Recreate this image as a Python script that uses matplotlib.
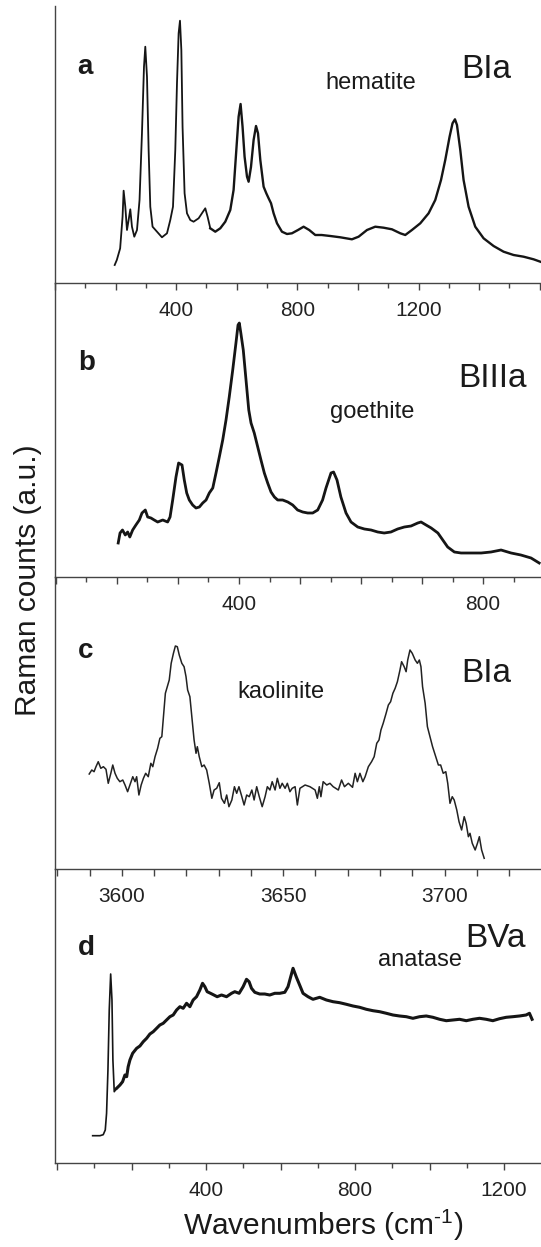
import matplotlib
matplotlib.use("Agg")
import matplotlib.pyplot as plt
from matplotlib.ticker import MultipleLocator, FuncFormatter

plt.rcParams["font.family"] = "Liberation Sans"
plt.rcParams["mathtext.fontset"] = "custom"
plt.rcParams["mathtext.rm"] = "Liberation Sans"
plt.rcParams["mathtext.it"] = "Liberation Sans:italic"

# panel a - hematite (BIa)
hem_wn = [197, 204, 215, 223, 226.5, 232, 237.6, 243, 248.5, 254, 261.7, 270.6, 279, 287,
          293.7, 298, 303.6, 309, 314.5, 322, 336.6, 353, 369.6, 380.5, 389.4, 397, 402.6,
          408, 412.5, 417, 421, 427.7, 435.6, 446.5, 457.4, 474, 488.4, 496, 503.6, 512.5,
          529, 545.5, 562, 578.5, 589.4, 600.7, 606, 612.5, 619, 625.7, 633.7, 639, 646.8,
          655.5, 663.4, 670, 677.6, 688.5, 697.4, 705, 713, 721.5, 732.7, 749, 765.7, 782,
          802, 820.5, 839, 859, 880, 908.6, 941.6, 980, 1002, 1029.7, 1057, 1084.5, 1112,
          1139.6, 1156, 1178, 1205.6, 1233, 1255, 1274, 1288, 1302.3, 1312, 1320, 1326.7,
          1337.6, 1348.5, 1365, 1387, 1414.5, 1447.5, 1480.5, 1513.5, 1546.5, 1579.5, 1601.7]
hem_int = [17.7, 22.7, 34.3, 66, 92, 76, 52.7, 62.7, 73.4, 56, 46, 52.7, 82.7, 149.4,
           216, 236, 206, 132.7, 76, 56, 51, 45.4, 49.4, 62.7, 76, 132.7, 199.4,
           249.4, 262, 232.7, 156, 89.4, 69.4, 62.7, 61, 64.4, 71, 74.4, 66, 54.4,
           51, 54.4, 61, 72.7, 92.7, 142.7, 166, 178.7, 156, 126, 106, 101, 115.7,
           142.7, 156.7, 149.4, 122.7, 96, 89.4, 84.4, 79.4, 69.4, 59.4, 51, 48.7, 49.4,
           52.7, 56, 52.7, 47.7, 47.7, 46.7, 45.4, 43.4, 46, 52.7, 56, 55, 53.4,
           49.4, 47.7, 52.7, 59.4, 69.4, 82.7, 102.7, 122.7, 146, 159.4, 163.4, 157.7,
           132.7, 102.7, 76, 56, 44.4, 36.7, 31, 27.7, 26, 23.4, 21]

# panel b - goethite (BIIIa)
goe_wn = [202, 205, 209, 213.6, 217.5, 221, 225.7, 231, 236.6, 241, 246.4, 250.3, 255.7,
          261, 266.7, 275, 283, 287, 291.3, 296.7, 301, 306.6, 310.3, 314.3, 318.5, 324,
          329.5, 335, 340.5, 346, 351.3, 357, 362.3, 367.7, 373.3, 378.7, 384, 389.7, 395,
          398.4, 400.5, 403, 407, 411.5, 416, 419.7, 425, 430.7, 436, 441.5, 447, 452.5,
          458, 463.4, 471.6, 480, 488, 496, 504.4, 512.6, 520.8, 529, 537, 542.6, 550.8,
          555, 560.6, 567, 575.4, 583.6, 594.6, 605.5, 616.4, 627.4, 638, 649, 660, 671,
          682, 693, 698.4, 706.6, 715, 726, 734, 742, 753, 764, 780, 797, 813, 829.5, 846,
          862, 878.7, 892]
goe_int = [34, 44, 47, 42, 45, 40, 47, 52, 57, 64, 67, 60, 59,
           57, 55, 57, 55, 60, 77, 100, 114, 112, 97, 84, 77, 72,
           69, 70, 74, 77, 84, 89, 104, 120, 137, 157, 180, 207, 234,
           252, 254, 244, 227, 197, 167, 154, 144, 130, 117, 104, 94, 85,
           80, 77, 77, 75, 72, 67, 65, 64, 64, 67, 77, 89, 104,
           105, 97, 80, 64, 55, 50, 48, 47, 45, 44, 45, 48, 50,
           51, 54, 55, 52, 49, 44, 37, 30, 25, 24, 24, 24, 25, 27, 24,
           22, 19, 14]

# panel c - kaolinite (BIa)
kao_wn = [3589.9, 3590.7, 3591.4, 3592.0, 3592.7, 3593.5, 3594.3, 3595.1, 3595.8, 3596.6,
          3597.2, 3597.9, 3598.6, 3599.4, 3600.3, 3601.0, 3601.8, 3602.5, 3603.4, 3604.1,
          3604.6, 3605.3, 3606.0, 3606.7, 3607.4, 3608.2, 3609.0, 3609.6, 3610.3, 3611.1,
          3611.8, 3612.4, 3612.9, 3613.5, 3614.1, 3614.7, 3615.3, 3616.0, 3616.6, 3617.2,
          3617.8, 3618.6, 3619.3, 3619.9, 3620.4, 3621.1, 3621.7, 3622.4, 3623.0, 3623.4,
          3624.0, 3624.8, 3625.5, 3626.3, 3627.1, 3627.9, 3628.6, 3629.4, 3630.2, 3630.9,
          3631.8, 3632.5, 3633.2, 3634.1, 3634.9, 3635.6, 3636.3, 3637.2, 3637.9, 3638.7,
          3639.5, 3640.3, 3641.0, 3641.8, 3642.6, 3643.5, 3644.4, 3645.1, 3645.9, 3646.6,
          3647.5, 3648.2, 3649.0, 3649.7, 3650.6, 3651.3, 3652.1, 3652.8, 3653.7, 3654.4,
          3655.2, 3656.8, 3658.3, 3659.9, 3660.6, 3661.2, 3661.7, 3662.4, 3663.5, 3664.5,
          3665.5, 3667.1, 3668.1, 3669.0, 3670.2, 3671.5, 3672.3, 3673.0, 3673.8, 3674.7,
          3675.4, 3676.4, 3677.4, 3678.2, 3679.0, 3679.7, 3680.3, 3681.0, 3681.9, 3682.6,
          3683.3, 3684.0, 3684.7, 3685.4, 3686.2, 3686.7, 3687.5, 3688.1, 3688.6, 3689.3,
          3690.0, 3690.9, 3691.6, 3692.2, 3692.7, 3693.2, 3694.0, 3694.7, 3695.5, 3696.3,
          3697.3, 3698.1, 3698.8, 3699.6, 3700.4, 3701.0, 3701.7, 3702.4, 3703.0, 3703.8,
          3704.5, 3705.3, 3706.1, 3706.7, 3707.4, 3707.9, 3708.6, 3709.5, 3710.2, 3710.8,
          3711.5, 3712.3]
kao_int = [95.3, 99.3, 97.6, 102.6, 107.6, 101, 102.6, 100, 86, 96,
           104.3, 96, 91, 87.6, 89.3, 84.3, 77.6, 84.3, 92.6, 87.6,
           92.6, 74.3, 84.3, 91, 96, 92.6, 106, 102.6, 112.6, 121,
           131, 132.6, 152.6, 176, 182.6, 189.3, 206, 216, 223.3, 222.6,
           214.3, 206, 202.6, 192.6, 179.3, 172.6, 152.6, 129.3, 116, 122.6,
           112.6, 102.6, 104.3, 99.3, 86, 71, 79.3, 81, 86.6, 71,
           66, 74.3, 62.6, 69.3, 82.6, 76, 82.6, 72.6, 64.3, 74.3,
           72.6, 79.3, 69.3, 82.6, 72.6, 62.6, 72.6, 82.6, 79.3, 87.6,
           79.3, 91, 81, 86, 81, 86, 77.6, 81, 82.6, 64.3,
           81, 84.3, 82.6, 79.3, 71, 82.6, 72.6, 87.6, 84.3, 86,
           82.6, 79.3, 89.3, 82.6, 86, 82, 96, 87.6, 96, 87.6,
           92.6, 102.6, 107.6, 112.6, 126, 129.3, 139.3, 146, 156, 164.3,
           167.6, 176, 181, 187.6, 199.3, 207.6, 202.6, 197.6, 209.3, 219.3,
           216, 209.3, 206, 209.3, 202.6, 182.6, 166, 142.6, 132.6, 122.6,
           112.6, 104.3, 104.3, 96, 97.6, 86, 66, 72.6, 69.3, 59.3,
           47.6, 39.3, 52.6, 46, 32.6, 36, 26, 19.3, 26, 32.6,
           19.3, 11]

# panel d - anatase (BVa)
ana_wn = [95.7, 115.3, 124, 129.5, 133, 136.7, 140.2, 144, 147.5, 150, 153.6, 160, 169, 176,
          182.3, 187, 191, 195.7, 203, 213.7, 222.5, 231.4, 240.5, 249.3, 258.2, 267.3, 276,
          285, 294, 303, 311.8, 320.9, 329.8, 338.6, 347.7, 356.6, 365.4, 374.5, 383.4,
          390.6, 396.8, 403, 412, 421, 429.8, 441.5, 455, 468.4, 477.2, 488.8, 499.5, 508.6,
          515.5, 522, 530.8, 544, 557.6, 571, 584.5, 597.9, 611.3, 620, 627.3, 633.5, 642.6,
          651.5, 660.3, 673.7, 687, 705, 723, 740.8, 758.7, 776.7, 794.4, 812.3, 830.3, 848,
          866, 884, 901.6, 919.6, 937.5, 955.2, 973.2, 991, 1009, 1027, 1044.8, 1062.5,
          1080.4, 1098.4, 1116.1, 1134, 1152, 1169.7, 1187.7, 1205.6, 1223.3, 1241, 1259,
          1268, 1275]
ana_int = [27.6, 27.6, 28.6, 33.3, 50, 93.3, 153.3, 189.3, 163.3, 103.3, 71.6, 75, 78.3, 81.6,
           88.3, 86.6, 96.6, 103.3, 110, 115, 117.3, 121.6, 125, 129.3, 131.6, 135, 138.3,
           140, 143.3, 146.6, 148.3, 153.3, 156.6, 155, 160, 156.6, 163.3, 166.6, 173.3,
           180, 176.6, 171.6, 170, 168.3, 166.6, 168.3, 166.6, 170, 171.6, 170, 176.6, 184,
           181.6, 175, 171, 169.3, 169.3, 168.3, 170, 170, 171, 176.6, 186.6, 195, 186,
           178, 170, 166.6, 164, 166, 163.3, 161.6, 160.6, 159, 157.3, 156, 154, 152.6,
           151.6, 150, 148.3, 147.3, 146.6, 145, 146.6, 147.3, 146, 144, 142.6, 143.3,
           144, 142.6, 144, 145, 144, 142.6, 144.6, 146, 146.6, 147.3, 148.3,
           150, 144]

W, H = 541, 1247
LEFT = 55

fig = plt.figure(figsize=(W / 100, H / 100), dpi=100)


def fx(px):
    return px / W


def fy(py):
    return 1 - py / H


def make_panel(top, bottom, xlim, major, minor, labels):
    ax = fig.add_axes([fx(LEFT), fy(bottom), (W - LEFT) / W, (bottom - top) / H])
    ax.set_xlim(*xlim)
    ax.set_ylim(0, bottom - top)
    for s in ("top", "right"):
        ax.spines[s].set_visible(False)
    for s in ("left", "bottom"):
        ax.spines[s].set_color("#444444")
        ax.spines[s].set_linewidth(1.0)
    ax.set_yticks([])
    ax.xaxis.set_major_locator(MultipleLocator(major))
    if minor:
        ax.xaxis.set_minor_locator(MultipleLocator(minor))
    ax.xaxis.set_major_formatter(
        FuncFormatter(lambda v, p: f"{v:.0f}" if round(v) in labels else ""))
    ax.tick_params(axis="x", which="major", direction="out", length=5, width=1.0,
                   color="#444444", labelsize=15, pad=8, labelcolor="#222222")
    ax.tick_params(axis="x", which="minor", direction="out", length=3.5, width=1.0,
                   color="#444444")
    ax.patch.set_alpha(0)
    return ax


line = "#151515"

ax_a = make_panel(6, 282.7, (0, 1604), 200, 100, {400, 800, 1200})
ax_a.plot(hem_wn[:40], hem_int[:40], color=line, lw=1.3)
ax_a.plot(hem_wn[39:], hem_int[39:], color=line, lw=1.7)

ax_b = make_panel(282.7, 577, (98.4, 895), 100, 50, {400, 800})
ax_b.plot(goe_wn, goe_int, color=line, lw=2.0)

ax_c = make_panel(577, 869.3, (3579.3, 3729.9), 10, None, {3600, 3650, 3700})
ax_c.plot(kao_wn, kao_int, color="#222222", lw=1.1)

ax_d = make_panel(869.3, 1163.3, (-5.4, 1299), 200, 100, {400, 800, 1200})
ax_d.plot(ana_wn[:12], ana_int[:12], color=line, lw=1.2)
ax_d.plot(ana_wn[11:], ana_int[11:], color=line, lw=2.2)

# panel letters, sample names and mineral names
txt = "#1a1a1a"
for letter, x, y in [("a", 77, 74), ("b", 78, 370), ("c", 78, 658), ("d", 78, 955)]:
    fig.text(fx(x), fy(y), letter, fontsize=20, fontweight="bold", color=txt,
             ha="left", va="baseline")
for name, x, y in [("BIa", 461.5, 78), ("BIIIa", 458, 386.7), ("BIa", 461.5, 682),
                   ("BVa", 465.5, 946.7)]:
    fig.text(fx(x), fy(y), name, fontsize=24, color=txt, ha="left", va="baseline")
for name, x, y in [("hematite", 325, 89.3), ("goethite", 330, 418),
                   ("kaolinite", 237, 698.3), ("anatase", 378, 966)]:
    fig.text(fx(x), fy(y), name, fontsize=17, color=txt, ha="left", va="baseline")

fig.text(fx(28.5), fy(580), "Raman counts (a.u.)", rotation=90, fontsize=21.5,
         color=txt, ha="center", va="center")
fig.text(fx(323), fy(1225), r"Wavenumbers (cm$^{\text{-1}}$)", fontsize=21.5,
         color=txt, ha="center", va="center")

fig.savefig("out.png", dpi=100)
